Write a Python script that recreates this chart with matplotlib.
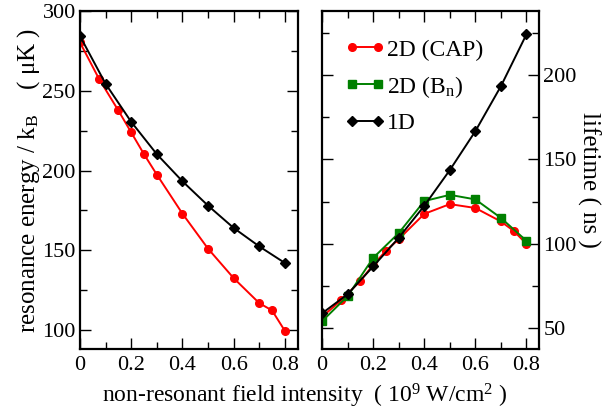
import matplotlib
matplotlib.use("Agg")
import matplotlib.pyplot as plt
from matplotlib.ticker import MultipleLocator

plt.rcParams["font.family"] = ["Liberation Serif", "DejaVu Serif"]
plt.rcParams["mathtext.fontset"] = "custom"
plt.rcParams["mathtext.rm"] = "Liberation Serif"
plt.rcParams["mathtext.it"] = "Liberation Serif:italic"

# intensity grid (10^9 W/cm^2)
x_cap = [0, 0.075, 0.15, 0.2, 0.25, 0.3, 0.4, 0.5, 0.6, 0.7, 0.75, 0.8]
x_1d = [0, 0.1, 0.2, 0.3, 0.4, 0.5, 0.6, 0.7, 0.8]
x_bn = [0, 0.1, 0.2, 0.3, 0.4, 0.5, 0.6, 0.7, 0.8]

# resonance energy / kB (muK)
energy_cap = [280.5, 257.4, 237.7, 224.0, 210.3, 197.5, 173.0, 151.0, 132.5, 116.8, 112.2, 99.4]
energy_1d = [284.5, 254.5, 230.6, 210.3, 193.3, 178.0, 164.0, 152.4, 142.0]

# lifetime (ns)
life_cap = [56.6, 66.5, 78.0, 87.5, 95.8, 102.7, 117.7, 123.5, 121.2, 113.2, 107.6, 99.9]
life_bn = [54.0, 68.9, 91.6, 106.3, 125.3, 129.0, 126.3, 115.3, 101.7]
life_1d = [58.7, 70.0, 86.5, 103.5, 122.5, 143.7, 166.8, 193.5, 224.3]

fig = plt.figure(figsize=(6.1, 4.15), dpi=100)
ax1 = fig.add_axes([0.131, 0.159, 0.357, 0.814])
ax2 = fig.add_axes([0.528, 0.159, 0.356, 0.814])

ax1.plot(x_cap, energy_cap, "-o", color="red", ms=5.5, lw=1.4)
ax1.plot(x_1d, energy_1d, "-D", color="black", ms=5.5, lw=1.4)

ax2.plot(x_cap, life_cap, "-o", color="red", ms=5.5, lw=1.4, label="2D (CAP)")
ax2.plot(x_bn, life_bn, "-s", color="green", ms=6, lw=1.4, label="2D (B$_\\mathrm{n}$)")
ax2.plot(x_1d, life_1d, "-D", color="black", ms=5.5, lw=1.4, label="1D")

for ax in (ax1, ax2):
    ax.set_xlim(0, 0.85)
    ax.xaxis.set_minor_locator(MultipleLocator(0.1))
    ax.tick_params(which="both", direction="in", top=True, right=True, labelsize=16)
    ax.tick_params(which="major", length=8, width=1, pad=5)
    ax.tick_params(which="minor", length=5, width=1)
    ax.set_xticks([0, 0.2, 0.4, 0.6, 0.8])
    ax.set_xticklabels(["0", "0.2", "0.4", "0.6", "0.8"])
    for s in ax.spines.values():
        s.set_linewidth(1.6)

ax1.set_ylim(88, 300)
ax1.yaxis.set_major_locator(MultipleLocator(50))
ax1.yaxis.set_minor_locator(MultipleLocator(25))
ax1.tick_params(axis="y", pad=3)
ax1.set_ylabel("resonance energy / k$_\\mathrm{B}$    ( \u03bcK )", fontsize=18, labelpad=0)

ax2.set_ylim(37.5, 238)
ax2.yaxis.set_major_locator(MultipleLocator(50))
ax2.yaxis.set_minor_locator(MultipleLocator(25))
ax2.tick_params(axis="y", labelleft=False, labelright=True, pad=3)
ax2.yaxis.set_label_position("right")
ax2.set_ylabel("lifetime ( ns )", fontsize=18, rotation=-90, labelpad=17)

ax2.legend(loc="upper left", bbox_to_anchor=(0.063, 0.945), frameon=False, fontsize=17,
           numpoints=2, handlelength=1.7, handletextpad=0.05, labelspacing=0.55,
           borderaxespad=0)

fig.text(0.5, 0.047, "non-resonant field intensity  ( 10$^9$ W/cm$^2$ )",
         ha="center", va="center", fontsize=17)

fig.savefig("out.png", dpi=100)
